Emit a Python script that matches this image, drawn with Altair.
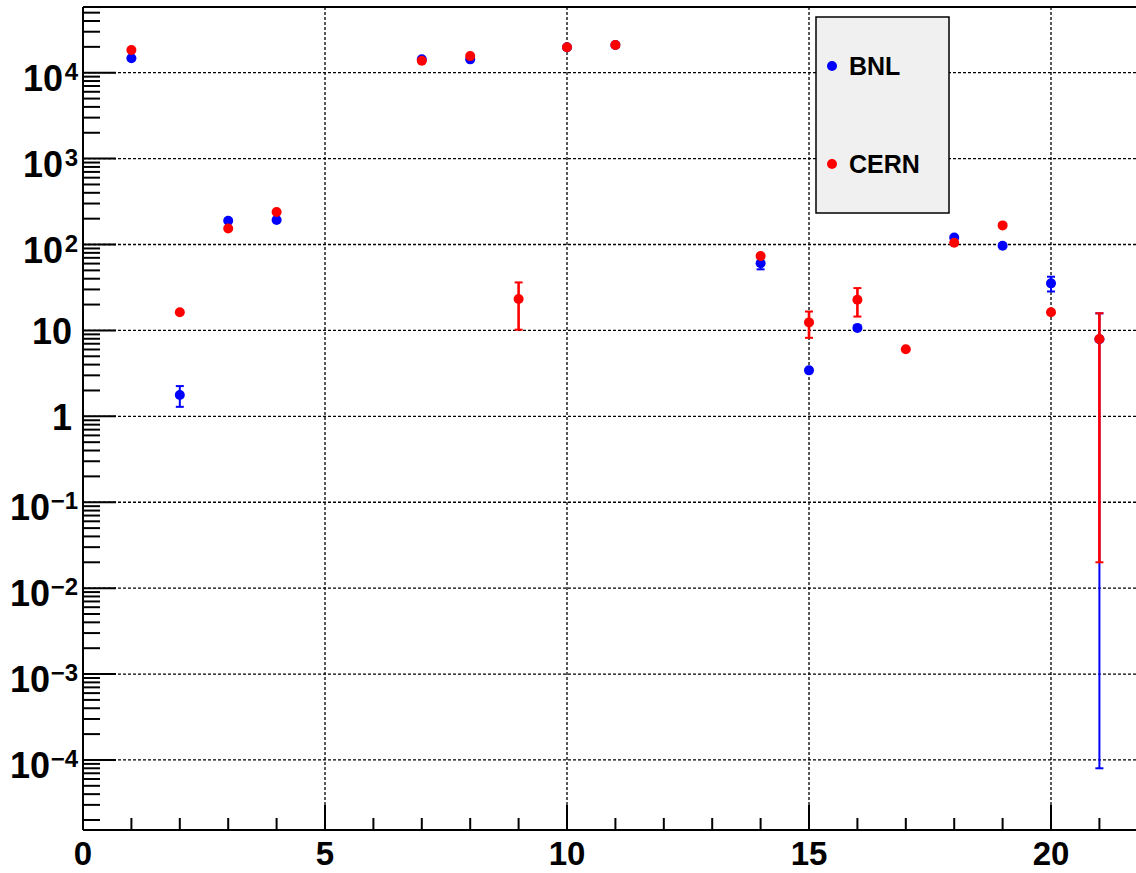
import altair as alt
import pandas as pd

# Series names and marker colours
series = ["BNL", "CERN"]
colors = ["#0000ff", "#ff0000"]
bar_widths = [2.0, 2.6]

# BNL measurements per run (value, symmetric error; 0 = no visible bar)
bnl_run = [1, 2, 3, 4, 7, 8, 10, 11, 14, 15, 16, 18, 19, 20, 21]
bnl_val = [14700, 1.77, 189, 193, 14300, 14300, 19800, 21000, 60.4, 3.43, 10.7, 121, 96.9, 35.3, 7.9]
bnl_err = [0, 0.48, 0, 0, 0, 0, 0, 0, 9.0, 0, 0, 0, 0, 6.9, 7.89992]

# CERN measurements per run
cern_run = [1, 2, 3, 4, 7, 8, 9, 10, 11, 14, 15, 16, 17, 18, 19, 20, 21]
cern_val = [18400, 16.3, 154, 239, 13800, 15600, 23.2, 19800, 21000, 73.5, 12.4, 22.8, 6.03, 105, 167, 16.3, 7.94]
cern_err = [0, 0, 0, 0, 0, 0, 13.0, 0, 0, 0, 4.2, 8.3, 0, 0, 0, 0, 7.92]

# Axis labelling
x_labels = [0, 5, 10, 15, 20]
decades = list(range(-4, 5))

W, H = 1053, 823
FONT = "Liberation Sans"
Y_MIN, Y_MAX = 1.53e-5, 5.82e4

X = alt.Scale(domain=[0, 21.756], nice=False, zero=False)
Y = alt.Scale(type="log", domain=[Y_MIN, Y_MAX], nice=False)


def table(runs, vals, errs):
    df = pd.DataFrame({"run": runs, "val": vals, "err": errs})
    df["lo"] = df["val"] - df["err"]
    df["hi"] = df["val"] + df["err"]
    return df


layers = []
anchor = pd.DataFrame({"run": [0.0], "val": [1.0]})

# Dotted grid
grid_x = pd.DataFrame({"v": [float(v) for v in x_labels if v > 0]})
grid_y = pd.DataFrame({"v": [10.0 ** k for k in decades]})
layers.append(
    alt.Chart(grid_x).mark_rule(color="black", strokeWidth=1.3, strokeDash=[3, 2]).encode(
        x=alt.X("v:Q", scale=X, axis=None), y=alt.value(0), y2=alt.value(H)
    )
)
layers.append(
    alt.Chart(grid_y).mark_rule(color="black", strokeWidth=1.3, strokeDash=[3, 2]).encode(
        y=alt.Y("v:Q", scale=Y, axis=None), x=alt.value(0), x2=alt.value(W)
    )
)

# Frame: left, bottom and top edges
layers.append(
    alt.Chart(anchor).mark_rule(color="black", strokeWidth=2).encode(
        x=alt.value(0), x2=alt.value(W), y=alt.value(0)
    )
)
layers.append(
    alt.Chart(anchor).mark_rule(color="black", strokeWidth=2).encode(
        x=alt.value(0), x2=alt.value(W), y=alt.value(H)
    )
)
layers.append(
    alt.Chart(anchor).mark_rule(color="black", strokeWidth=2).encode(
        x=alt.value(0), y=alt.value(0), y2=alt.value(H)
    )
)

# Inner tick marks on the y axis (major at decades, minor at 2..9)
y_major = pd.DataFrame({"v": [10.0 ** k for k in decades]})
y_minor = pd.DataFrame({"v": [m * 10.0 ** k for k in range(-5, 5) for m in range(2, 10)
                              if Y_MIN <= m * 10.0 ** k <= Y_MAX]})
layers.append(
    alt.Chart(y_major).mark_rule(color="black", strokeWidth=2).encode(
        y=alt.Y("v:Q", scale=Y, axis=None), x=alt.value(0), x2=alt.value(33)
    )
)
layers.append(
    alt.Chart(y_minor).mark_rule(color="black", strokeWidth=2).encode(
        y=alt.Y("v:Q", scale=Y, axis=None), x=alt.value(0), x2=alt.value(17)
    )
)

# Inner tick marks on the x axis
x_minor = pd.DataFrame({"v": [float(i) for i in range(0, 22) if i % 5]})
x_major = pd.DataFrame({"v": [float(i) for i in x_labels]})
layers.append(
    alt.Chart(x_minor).mark_rule(color="black", strokeWidth=2).encode(
        x=alt.X("v:Q", scale=X, axis=None), y=alt.value(H), y2=alt.value(H - 12)
    )
)
layers.append(
    alt.Chart(x_major).mark_rule(color="black", strokeWidth=2).encode(
        x=alt.X("v:Q", scale=X, axis=None), y=alt.value(H), y2=alt.value(H - 25)
    )
)

# Data: error bars with caps, then markers, one series after the other
for name, color, bw, df in [
    (series[0], colors[0], bar_widths[0], table(bnl_run, bnl_val, bnl_err)),
    (series[1], colors[1], bar_widths[1], table(cern_run, cern_val, cern_err)),
]:
    bars = df[df.err > 0]
    layers.append(
        alt.Chart(bars).mark_rule(color=color, strokeWidth=bw, opacity=1).encode(
            x=alt.X("run:Q", scale=X, axis=None),
            y=alt.Y("lo:Q", scale=Y, axis=None),
            y2="hi:Q",
        )
    )
    for end in ["lo", "hi"]:
        layers.append(
            alt.Chart(bars).mark_tick(color=color, thickness=2, size=8, orient="horizontal",
                                      opacity=1).encode(
                x=alt.X("run:Q", scale=X, axis=None),
                y=alt.Y(f"{end}:Q", scale=Y, axis=None),
            )
        )
    layers.append(
        alt.Chart(df).mark_circle(color=color, size=100, opacity=1).encode(
            x=alt.X("run:Q", scale=X, axis=None),
            y=alt.Y("val:Q", scale=Y, axis=None),
        )
    )

# Y-axis labels: "1", "10" and 10 with a raised exponent
sup = {k: ("" if k in (0, 1) else str(k).replace("-", "\u2212")) for k in decades}
dec_df = pd.DataFrame({
    "v": [10.0 ** k for k in decades],
    "base": ["1" if k == 0 else "10" for k in decades],
    "exp": [sup[k] for k in decades],
    "n": [len(sup[k]) for k in decades],
})
for n, base_x, dy in [(0, -11, 3), (1, -20, 7), (2, -33, 7)]:
    sub = dec_df[dec_df.n == n]
    layers.append(
        alt.Chart(sub).mark_text(font=FONT, fontWeight="bold", fontSize=36, align="right",
                                 baseline="middle", dy=dy, color="black").encode(
            y=alt.Y("v:Q", scale=Y, axis=None), x=alt.value(base_x), text="base:N"
        )
    )
    if n:
        layers.append(
            alt.Chart(sub).mark_text(font=FONT, fontWeight="bold", fontSize=24, align="right",
                                     baseline="middle", dy=0, color="black").encode(
                y=alt.Y("v:Q", scale=Y, axis=None), x=alt.value(-5), text="exp:N"
            )
        )

# X-axis labels
xl_df = pd.DataFrame({"v": [float(v) for v in x_labels], "t": [str(v) for v in x_labels]})
layers.append(
    alt.Chart(xl_df).mark_text(font=FONT, fontWeight="bold", fontSize=33, align="center",
                               baseline="middle", color="black").encode(
        x=alt.X("v:Q", scale=X, axis=None), y=alt.value(H + 25), text="t:N"
    )
)

# Legend box
layers.append(
    alt.Chart(anchor).mark_rect(fill="#f0f0f0", stroke="black", strokeWidth=1.5).encode(
        x=alt.value(733), x2=alt.value(866), y=alt.value(10), y2=alt.value(206)
    )
)
for i, (name, color) in enumerate(zip(series, colors)):
    entry = pd.DataFrame({"name": [name]})
    layers.append(
        alt.Chart(entry).mark_circle(color=color, size=100, opacity=1).encode(
            x=alt.value(749), y=alt.value(59 + 98 * i)
        )
    )
    layers.append(
        alt.Chart(entry).mark_text(font=FONT, fontWeight="bold", fontSize=25, align="left",
                                   baseline="middle", color="black").encode(
            x=alt.value(766), y=alt.value(60 + 98 * i), text="name:N"
        )
    )

chart = (
    alt.layer(*layers)
    .properties(width=W, height=H, autosize=alt.AutoSizeParams(type="none"),
                padding={"left": 83, "top": 7, "right": 0, "bottom": 43})
    .configure_view(stroke=None)
    .configure(font=FONT)
)

chart.save("out.html", embed_options={"renderer": "svg", "actions": False})
